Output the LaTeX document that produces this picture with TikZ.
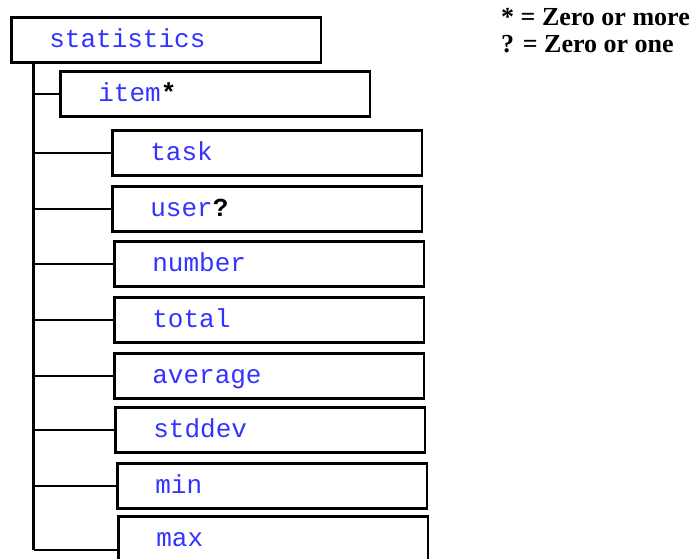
\documentclass[tikz,border=0pt]{standalone}
\usepackage{fontspec}
\setmainfont{Liberation Serif}
\setmonofont{Liberation Mono}
\usepackage{tikz}

\definecolor{tagblue}{RGB}{51,51,255}
\tikzset{
  elem/.style={draw, line width=2.6pt, anchor=north west, minimum width=309.5pt,
    minimum height=45pt, text width=234pt, inner xsep=36pt, align=left,
    text height=15pt, text depth=0pt, font=\fontsize{26}{30}\selectfont\ttfamily,
    text=tagblue},
  tree/.style={line width=2.6pt},
  legend/.style={anchor=base west, inner sep=0pt, font=\fontsize{26}{30}\selectfont\bfseries}
}
\newcommand{\occ}[1]{\textcolor{black}{\bfseries #1}}

\begin{document}
\begin{tikzpicture}[x=1pt, y=-1pt]
\useasboundingbox (0,0) rectangle (696,559);
\clip (0,0) rectangle (696,559);
\node[elem] (stats) at (10.3,16.3) {statistics};
\node[elem] (item) at (59.3,70.3) {item\occ{*}};
\node[elem] (task) at (111.3,129.3) {task};
\node[elem] (user) at (111.3,185.3) {user\occ{?}};
\node[elem] (number) at (113.3,240.3) {number};
\node[elem] (total) at (113.3,296.3) {total};
\node[elem] (average) at (113.3,352.3) {average};
\node[elem] (stddev) at (114.3,406.3) {stddev};
\node[elem] (min) at (116.3,462.3) {min};
\node[elem] (max) at (117.3,515.3) {max};
% trunk and branches
\coordinate (trunkend) at (33.5,550);
\draw[tree] (stats.south -| trunkend) -- (trunkend);
\foreach \n in {item, task, user, number, total, average, stddev, min}
  \draw[tree] (\n.west) -- (\n.west -| trunkend);
\draw[tree] (trunkend -| max.west) -- (trunkend);
\node[legend] (many) at (501,26) {* = Zero or more};
\node[legend] (opt) at (501,53) {? = Zero or one};
\end{tikzpicture}
\end{document}
